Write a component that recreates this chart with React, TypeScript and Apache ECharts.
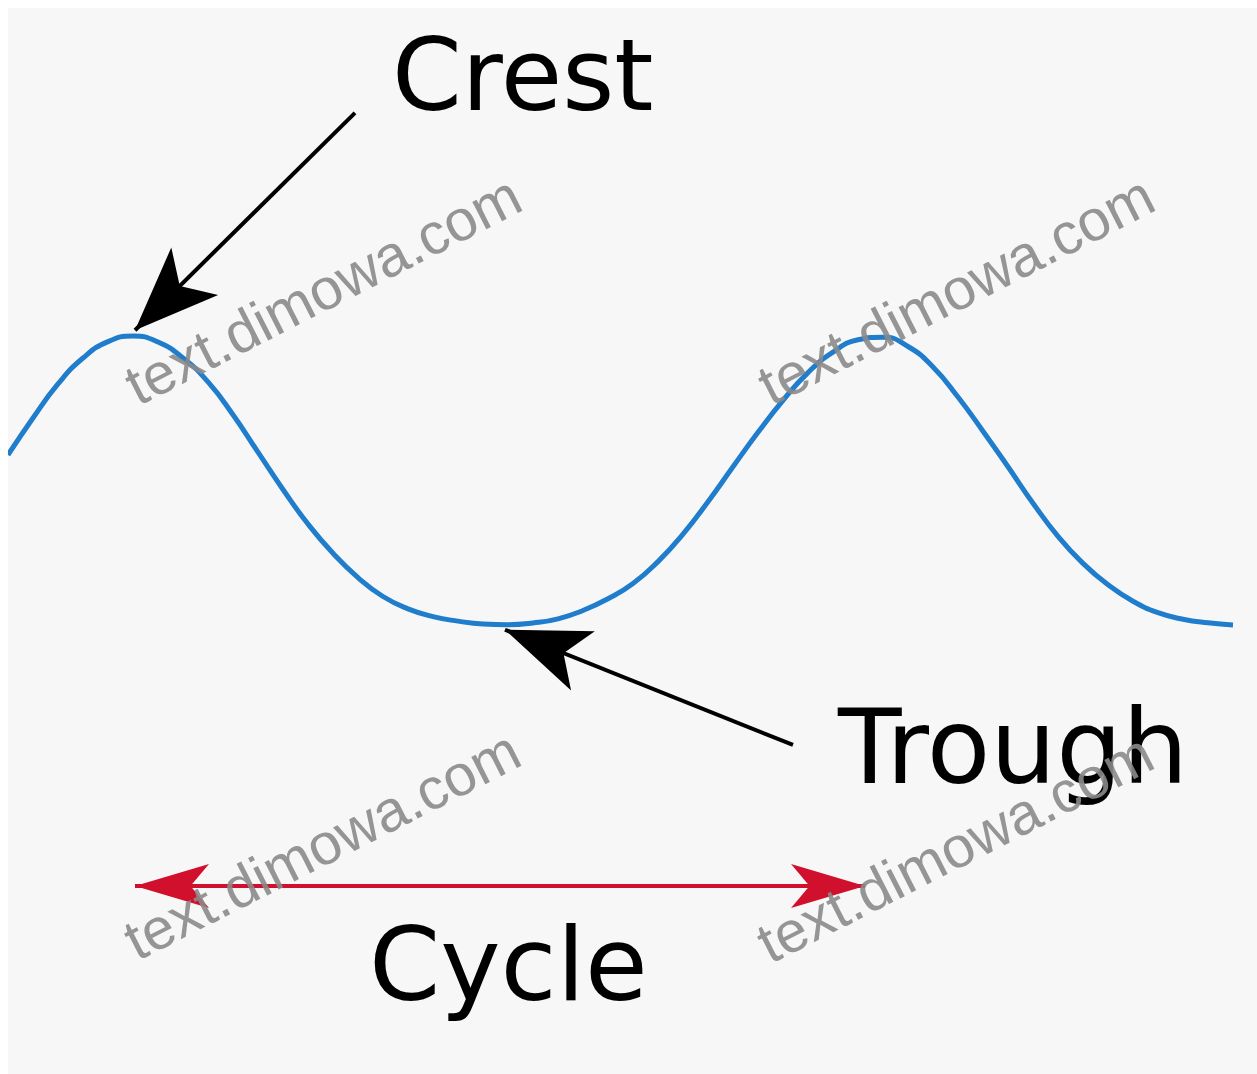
import React, { useEffect, useRef } from "react";
import * as echarts from "echarts";

// Wave samples: horizontal position and displacement (crest = 100, trough = -100)
const positions = [
  0, 25, 50, 75, 100, 125, 150, 175, 200, 225, 250, 275, 300, 325, 350, 375, 400, 425, 450, 475,
  500, 525, 550, 575, 600, 625, 650, 675, 700, 725, 750, 775, 800, 825, 850, 875, 900, 925, 950, 975,
  1000, 1025, 1050, 1075, 1100, 1125, 1150, 1175, 1200, 1225,
];
const displacement = [
  17.4, 43.1, 66.7, 84.7, 96.1, 100.0, 95.8, 84.7, 68.1, 45.3, 19.3, -6.6, -30.6, -50.9, -67.8, -80.9, -89.5, -94.9, -98.0, -100.0,
  -100.5, -99.3, -96.4, -90.6, -82.5, -71.9, -56.7, -37.6, -15.1, 9.2, 33.1, 55.3, 74.6, 88.8, 97.4, 99.2, 92.7, 78.5, 57.6, 33.9,
  9.2, -16.1, -39.1, -57.9, -72.8, -84.2, -92.1, -96.7, -99.2, -100.7,
];

// Annotation arrows in data units [position, displacement]
const crestArrowFrom = [347, 255];
const crestArrowTo = [127, 104];
const troughArrowFrom = [785, -184];
const troughArrowTo = [497, -104];
const cycleArrowFrom = [127, -282];
const cycleArrowTo = [857, -282];

const labelCrest = "Crest";
const labelTrough = "Trough";
const labelCycle = "Cycle";
const watermarkText = "text.dimowa.com";

const GRID_W = 1241;

export default function App() {
  const ref = useRef<HTMLDivElement>(null);
  useEffect(() => {
    if (!ref.current) return;
    const chart = echarts.init(ref.current, undefined, { renderer: "svg" });
    const wmRot = (27 * Math.PI) / 180;
    const wmCenters = [
      [315, 282],
      [948, 282],
      [314, 837],
      [947, 840],
    ];
    const head = (size: number[]) => ({ symbol: "arrow", symbolSize: size });
    chart.setOption({
      animation: false,
      backgroundColor: "#f7f7f7",
      grid: { left: 0, width: GRID_W, top: 40, height: 864 },
      xAxis: { type: "value", min: 0, max: GRID_W, show: false },
      yAxis: { type: "value", min: -300, max: 300, show: false },
      series: [
        {
          type: "line",
          data: positions.map((x, i) => [x, displacement[i]]),
          smooth: 0.5,
          showSymbol: false,
          silent: true,
          clip: false,
          lineStyle: { color: "#1f7dcc", width: 5 },
          z: 2,
          markLine: {
            silent: true,
            symbol: ["none", "none"],
            label: { show: false },
            emphasis: { disabled: true },
            data: [
              [
                { coord: crestArrowFrom, symbol: "none", lineStyle: { color: "#000", width: 4, type: "solid" } },
                { coord: crestArrowTo, ...head([50, 84]) },
              ],
              [
                { coord: troughArrowFrom, symbol: "none", lineStyle: { color: "#000", width: 4, type: "solid" } },
                { coord: troughArrowTo, ...head([48, 84]) },
              ],
              [
                { coord: cycleArrowFrom, ...head([33, 74]), lineStyle: { color: "#d0102c", width: 4, type: "solid" } },
                { coord: cycleArrowTo, ...head([33, 74]) },
              ],
            ],
          },
        },
      ],
      graphic: [
        ...wmCenters.map(([x, y]) => ({
          type: "text",
          x,
          y,
          rotation: wmRot,
          z: 100,
          silent: true,
          style: {
            text: watermarkText,
            x: 0,
            y: 0,
            align: "center",
            verticalAlign: "middle",
            font: '58px "Liberation Sans", Arial, sans-serif',
            fill: "#8a8a8a",
            opacity: 0.9,
          },
        })),
        {
          type: "text",
          x: 384,
          y: 67,
          z: 90,
          style: { text: labelCrest, x: 0, y: 0, align: "left", verticalAlign: "middle", font: '100px "DejaVu Sans", sans-serif', fill: "#000" },
        },
        {
          type: "text",
          x: 830,
          y: 739,
          z: 90,
          style: { text: labelTrough, x: 0, y: 0, align: "left", verticalAlign: "middle", font: '104px "DejaVu Sans", sans-serif', fill: "#000" },
        },
        {
          type: "text",
          x: 361,
          y: 956,
          z: 90,
          style: { text: labelCycle, x: 0, y: 0, align: "left", verticalAlign: "middle", font: '102px "DejaVu Sans", sans-serif', fill: "#000" },
        },
      ],
    });
    return () => chart.dispose();
  }, []);
  return <div ref={ref} style={{ position: "absolute", left: 8, top: 8, width: 1249, height: 1066 }} />;
}
